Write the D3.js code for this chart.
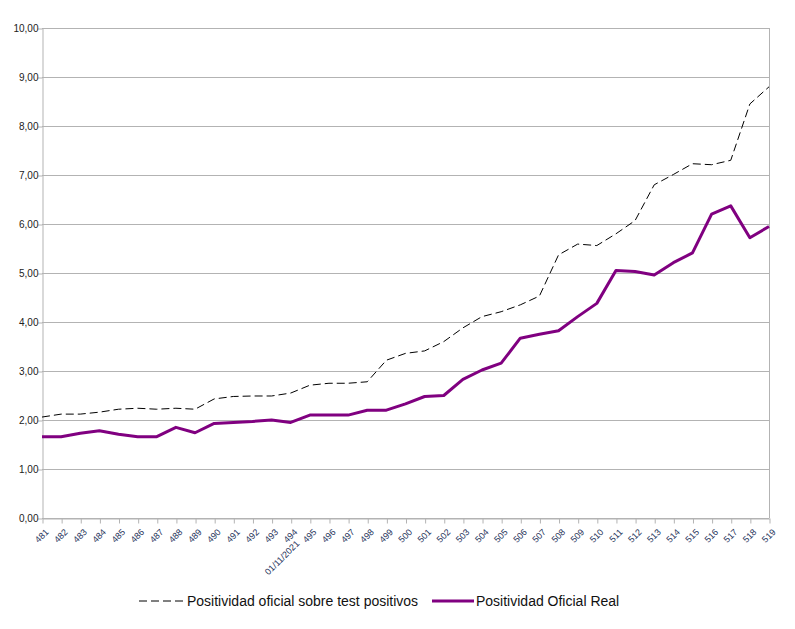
<!DOCTYPE html>
<html>
<head>
<meta charset="utf-8">
<script src="https://cdn.jsdelivr.net/npm/d3@7"></script>
<style>
  body { margin: 0; background: #fff; }
  text { font-family: "Liberation Sans", Arial, sans-serif; }
</style>
</head>
<body>
<div id="app"></div>
<script>
// categories (as shown on the axis)
const categories = d3.range(481, 520).map(String);
const extraLabel = { index: 13, text: "01/11/2021" };

// series
const oficial = [2.06, 2.12, 2.12, 2.16, 2.22, 2.24, 2.22, 2.24, 2.22, 2.43,
  2.48, 2.49, 2.49, 2.55, 2.71, 2.75, 2.75, 2.78, 3.22, 3.36,
  3.41, 3.60, 3.88, 4.11, 4.21, 4.35, 4.53, 5.37, 5.59, 5.56,
  5.80, 6.07, 6.80, 7.01, 7.23, 7.21, 7.30, 8.45, 8.80];
const real = [1.66, 1.66, 1.73, 1.78, 1.71, 1.66, 1.66, 1.85, 1.74, 1.93,
  1.95, 1.97, 2.00, 1.95, 2.10, 2.10, 2.10, 2.20, 2.20, 2.33,
  2.48, 2.50, 2.83, 3.02, 3.16, 3.67, 3.75, 3.82, 4.11, 4.38,
  5.05, 5.03, 4.96, 5.21, 5.41, 6.20, 6.37, 5.72, 5.95];

const yTicks = d3.range(0, 11);
const seriesNames = ["Positividad oficial sobre test positivos", "Positividad Oficial Real"];

const W = 795, H = 629;
const m = { left: 42, right: 26, top: 28, bottom: 111 };

const svg = d3.select("#app").append("svg")
  .attr("width", W).attr("height", H);

const x = d3.scalePoint().domain(categories).range([m.left, W - m.right]);
const y = d3.scaleLinear().domain([0, 10]).range([H - m.bottom, m.top]);

//grid
svg.append("g").selectAll("line").data(yTicks).enter().append("line")
  .attr("x1", m.left).attr("x2", W - m.right)
  .attr("y1", d => y(d) + 0.5).attr("y2", d => y(d) + 0.5)
  .style("stroke", "#b3b3b3");

// right border
svg.append("line")
  .attr("x1", W - m.right + 0.5).attr("x2", W - m.right + 0.5)
  .attr("y1", m.top).attr("y2", H - m.bottom)
  .style("stroke", "#b3b3b3");

//y axis
const yAxis = svg.append("g")
  .attr("transform", `translate(${m.left + 0.5},0.5)`)
  .call(d3.axisLeft(y).tickValues(yTicks).tickSize(5).tickSizeOuter(0)
    .tickFormat(d => d3.format(".2f")(d).replace(".", ",")));
yAxis.selectAll("path, line").style("stroke", "#b3b3b3");
yAxis.selectAll("text").style("font-size", "10px").style("fill", "#222").attr("x", -4);

//x axis
const xAxis = svg.append("g")
  .attr("transform", `translate(0.5,${H - m.bottom + 0.5})`)
  .call(d3.axisBottom(x).tickSize(5).tickSizeOuter(0));
xAxis.selectAll("path, line").style("stroke", "#b3b3b3");
xAxis.selectAll("text")
  .style("font-size", "9px").style("fill", "#26335a")
  .attr("text-anchor", "end")
  .attr("x", 0).attr("y", 0).attr("dy", "0.35em")
  .attr("transform", "translate(4,12) rotate(-45)");

svg.append("text")
  .attr("transform", `translate(${x(categories[extraLabel.index]) + 7},${H - m.bottom + 24}) rotate(-45)`)
  .attr("text-anchor", "end")
  .attr("dy", "0.35em")
  .style("font-size", "9px").style("fill", "#26335a")
  .text(extraLabel.text);

//lines
const line = d3.line().x((d, i) => x(categories[i])).y(d => y(d));

svg.append("path").datum(oficial)
  .attr("d", line)
  .style("fill", "none").style("stroke", "#000").style("stroke-width", 1)
  .style("stroke-dasharray", "8,4");

svg.append("path").datum(real)
  .attr("d", line)
  .style("fill", "none").style("stroke", "#800080").style("stroke-width", 3)
  .style("stroke-linejoin", "round");

//legend
const leg = svg.append("g").attr("transform", `translate(0,${H - 28})`);
leg.append("line").attr("x1", 139).attr("x2", 185).attr("y1", 0).attr("y2", 0)
  .style("stroke", "#000").style("stroke-dasharray", "8,4");
leg.append("text").attr("x", 187).attr("y", 5).style("font-size", "14px").style("fill", "#111")
  .text(seriesNames[0]);
leg.append("line").attr("x1", 432).attr("x2", 474).attr("y1", 0).attr("y2", 0)
  .style("stroke", "#800080").style("stroke-width", 3);
leg.append("text").attr("x", 476).attr("y", 5).style("font-size", "14px").style("fill", "#111")
  .text(seriesNames[1]);
</script>
</body>
</html>
